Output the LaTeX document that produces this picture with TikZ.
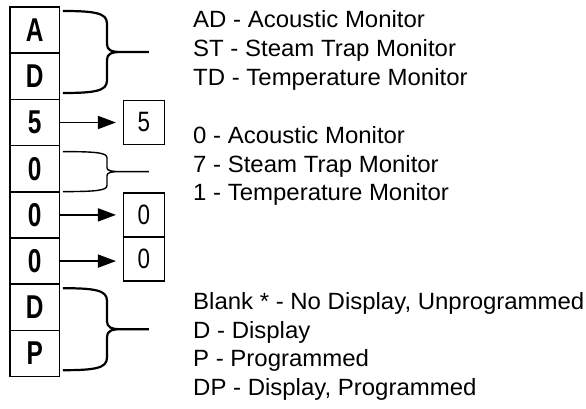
\documentclass[tikz,border=0pt]{standalone}
\usepackage{fontspec}
\setmainfont{Liberation Sans}[FakeStretch=1.02]
\newfontfamily\codefont[FakeStretch=0.74]{Liberation Sans Bold}
\newfontfamily\digitfont[FakeStretch=0.8]{Liberation Sans}
\usetikzlibrary{arrows.meta, positioning}

% curly brace from a start point, #3 = half height
\newcommand{\codebrace}[3]{%
  \draw[#1] #2 .. controls +(32,0) and +(0,-0.25*#3) .. ++(44,0.3*#3)
    -- ++(0,0.5*#3) .. controls +(0,0.15*#3) and +(-10,0) .. ++(14,0.2*#3) -- ++(28,0)
    ++(-28,0) .. controls +(-10,0) and +(0,-0.15*#3) .. ++(-14,0.2*#3)
    -- ++(0,0.5*#3) .. controls +(0,0.25*#3) and +(32,0) .. ++(-44,0.3*#3);}

\begin{document}
\begin{tikzpicture}[
  x=1pt, y=-1pt,
  codebox/.style={draw, line width=1.6pt, minimum width=49.5pt, minimum height=46.2pt,
                  inner sep=0pt, outer sep=0pt, font=\codefont\fontsize{33}{34}\selectfont},
  digitbox/.style={draw, line width=1.5pt, minimum width=41pt, minimum height=44pt,
                   inner sep=0pt, outer sep=0pt, font=\digitfont\fontsize{28}{29}\selectfont},
  legend/.style={anchor=north west, inner sep=0pt, align=left,
                 font=\fontsize{23.5}{28.8}\selectfont},
  codearrow/.style={-{Triangle[length=18pt, width=13pt]}, line width=1.6pt, shorten >=7.5pt},
  thickbrace/.style={line width=2.2pt},
  thinbrace/.style={line width=1.4pt},
]
  \useasboundingbox (0,0) rectangle (586,409);

  % code column
  \node[codebox] (c1) at (34.7,30.1) {A};
  \node[codebox, below=0pt of c1] (c2) {D};
  \node[codebox, below=0pt of c2] (c3) {5};
  \node[codebox, below=0pt of c3] (c4) {0};
  \node[codebox, below=0pt of c4] (c5) {0};
  \node[codebox, below=0pt of c5] (c6) {0};
  \node[codebox, below=0pt of c6] (c7) {D};
  \node[codebox, below=0pt of c7] (c8) {P};

  % fixed digits
  \node[digitbox, right=64pt of c3] (s5) {5};
  \node[digitbox, right=64pt of c5] (s0a) {0};
  \node[digitbox, below=0pt of s0a] (s0b) {0};

  \draw[codearrow] (c3.east) -- (s5.west);
  \draw[codearrow] (c5.east) -- (c5.east -| s0a.west);
  \draw[codearrow] (c6.east) -- (c6.east -| s0b.west);

  % braces
  \codebrace{thickbrace}{([shift={(3.5,4)}]c1.north east)}{41}
  \codebrace{thinbrace}{([shift={(3.5,6)}]c4.north east)}{20}
  \codebrace{thickbrace}{([shift={(3.5,4)}]c7.north east)}{41}

  % legends
  \node[legend] (typelist) at (193,10.2)
    {AD - Acoustic Monitor\\ST - Steam Trap Monitor\\TD - Temperature Monitor};
  \node[legend] (digitlist) at (193,126)
    {0 - Acoustic Monitor\\7 - Steam Trap Monitor\\1 - Temperature Monitor};
  \node[legend] (optionlist) at (193,292)
    {Blank * - No Display, Unprogrammed\\D - Display\\P - Programmed\\DP - Display, Programmed};
\end{tikzpicture}
\end{document}
